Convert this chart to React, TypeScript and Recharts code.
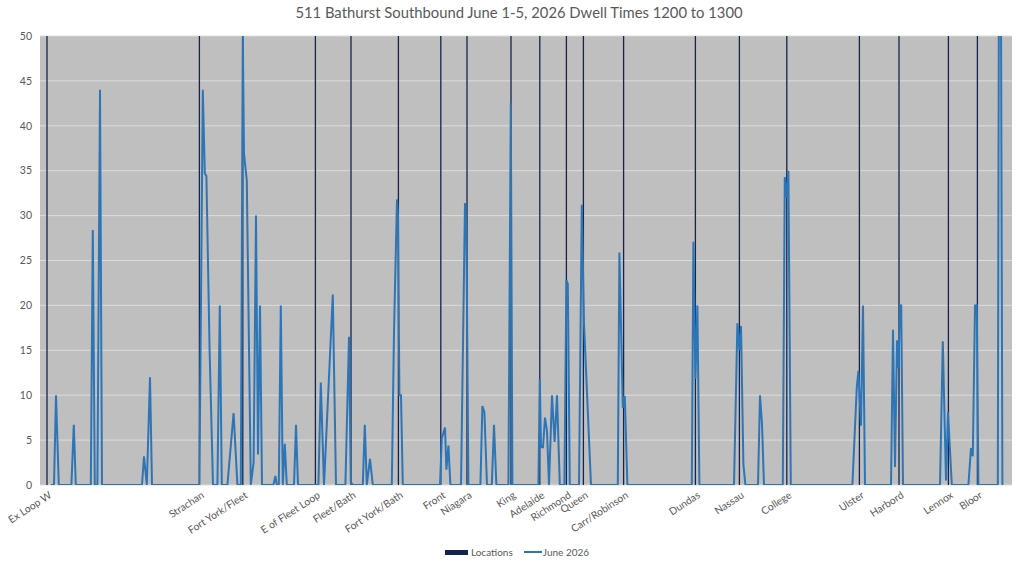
import {
  ComposedChart, Bar, Line, XAxis, YAxis, CartesianGrid, Legend,
} from "recharts";

// ── Route positions (index along the route) ───────────────────────
const locNames = [
  "Ex Loop W", "Strachan", "Fort York/Fleet", "E of Fleet Loop", "Fleet/Bath",
  "Fort York/Bath", "Front", "Niagara", "King", "Adelaide",
  "Richmond", "Queen", "Carr/Robinson", "Dundas", "Nassau",
  "College", "Ulster", "Harbord", "Lennox", "Bloor",
];
const locX = [
  3.5, 79.7, 101.4, 137.7, 155.5,
  179.2, 200.4, 213.5, 235.5, 249.9,
  263.2, 271.7, 291.8, 327.7, 349.7,
  373.4, 409.7, 429.5, 454.2, 468.7,
];
const locY = [
  50, 50, 50, 50, 50, 50, 50, 50, 50, 50,
  50, 50, 50, 50, 50, 50, 50, 50, 50, 50,
];

// ── June 2026 dwell times (seconds) ───────────────────────────────
const dwellX = [
  5.4, 7, 8, 9.4, 15.7, 16.9, 17.9, 25.4, 26.4, 27.4,
  28.7, 30, 31, 51, 52, 53.4, 55, 56, 79.7, 81.4,
  82.4, 83.2, 84.8, 86.5, 88.7, 89.9, 90.9, 93.7, 96.8, 98.7,
  100.4, 101.4, 102, 103.4, 105.4, 106.8, 108, 109, 110, 111,
  116.7, 117.7, 118.4, 119.4, 120.4, 121.4, 122.4, 123.4, 127, 128,
  129, 139.2, 140.4, 142, 146.4, 148, 152.7, 154.5, 155.4, 156.5,
  161.4, 162.4, 163.4, 165, 166.4, 175.9, 177, 178.5, 179, 179.7,
  180.5, 181.4, 200, 200.9, 202.5, 203.2, 204.2, 205.2, 210.5, 212.5,
  213.2, 214.2, 220.2, 221.2, 222.2, 223.5, 225.9, 227, 228.2, 234.2,
  235.4, 236.2, 249.2, 249.9, 250.5, 251.5, 252.5, 253.5, 254.5, 256,
  257.3, 258.5, 259.9, 262.2, 263.2, 263.9, 264.9, 269.5, 270.9, 272,
  275.5, 288.9, 289.7, 291.4, 292.4, 293.7, 325.9, 326.7, 327.7, 328.7,
  329.7, 347, 348.7, 349.7, 350.5, 351.7, 352.7, 359, 360, 361,
  362, 371.4, 372.4, 373.4, 374.2, 375.4, 406.2, 408.4, 409.2, 410.5,
  411.5, 412.5, 425.5, 426.5, 427.5, 428.5, 429.3, 429.9, 430.6, 431.5,
  450, 451.4, 453, 454, 455.9, 464.2, 465.5, 466.4, 467.5, 468.4,
  469.2, 478.9, 479.5, 480.4, 481.2, 481.7,
];
const dwellY = [
  0, 0, 10, 0, 0, 6.7, 0, 0, 28.4, 0,
  0, 44, 0, 0, 3.2, 0, 12, 0, 0, 44,
  34.7, 34.4, 15, 0, 0, 20, 0, 0, 8, 0,
  0, 50, 36.9, 33.9, 0, 2.5, 30, 3.4, 20, 0,
  0, 1, 0, 0, 20, 0, 4.6, 0, 0, 6.7,
  0, 0, 11.4, 0, 21.2, 0, 0, 16.5, 0.3, 0,
  0, 6.7, 0, 2.9, 0, 0, 17, 31.8, 30, 10,
  10, 0, 0, 5.2, 6.4, 1.7, 4.4, 0, 0, 31.4,
  28.3, 0, 0, 8.8, 8.1, 0, 0, 6.7, 0, 0,
  42.5, 0, 0, 11.8, 4.2, 4.2, 7.5, 6, 0, 10,
  4.8, 10, 0, 0, 22.8, 22.4, 0, 0, 31.2, 18,
  0, 0, 25.9, 8.6, 9.9, 0, 0, 27.1, 11.8, 20,
  0, 0, 18, 15, 17.7, 2.3, 0, 0, 10, 6.8,
  0, 0, 34.3, 32, 35, 0, 0, 10.9, 12.7, 6.6,
  20, 0, 0, 17.3, 2, 16.1, 13, 20, 20, 0,
  0, 16, 0.5, 8.1, 0, 0, 4.1, 3.2, 20, 20,
  0, 0, 60, 60, 0, 0,
];

const yTicks = [0, 5, 10, 15, 20, 25, 30, 35, 40, 45, 50];

const rows = [
  ...locX.map((x, i) => ({ x, loc: locY[i] })),
  ...dwellX.map((x, i) => ({ x, dwell: dwellY[i] })),
].sort((a, b) => a.x - b.x);

const FONT = "Lato, 'Open Sans', sans-serif";
const TEXT = "#595959";
const LOC_COLOR = "#14244F";
const LINE_COLOR = "#2E75B6";

// numeric axis makes the band tiny, so draw each location as a thin column
const LocationBar = ({ x, y, width, height }: any) => {
  if (!height) return null;
  const cx = x + width / 2;
  return <rect x={cx - 0.65} y={y} width={1.3} height={height} fill={LOC_COLOR} />;
};

const LocationTick = ({ x, y, payload }: any) => {
  const name = locNames[locX.indexOf(payload.value)] ?? "";
  return (
    <g transform={`translate(${x + 1},${y - 3})`}>
      <text
        textAnchor="end"
        transform="rotate(-33)"
        dy="0.8em"
        fill={TEXT}
        fontSize={10.3}
        fontFamily={FONT}
      >
        {name}
      </text>
    </g>
  );
};

const LegendContent = () => (
  <div style={{
    display: "flex", justifyContent: "center", alignItems: "center",
    fontFamily: FONT, fontSize: 10, color: TEXT, paddingLeft: 22, paddingTop: 3,
  }}>
    <span style={{ width: 23, height: 5, background: LOC_COLOR, display: "inline-block", marginRight: 3 }} />
    <span style={{ marginRight: 11 }}>Locations</span>
    <span style={{ width: 18, height: 2, background: LINE_COLOR, display: "inline-block", marginRight: 1 }} />
    <span>June 2026</span>
  </div>
);

export default function App() {
  return (
    <div style={{ position: "absolute", left: 0, top: 0, width: 1024, height: 561, background: "#fff" }}>
      <div style={{
        position: "absolute", top: 3, left: 7, width: 1024, textAlign: "center",
        fontFamily: FONT, fontSize: 14.8, color: TEXT,
      }}>
        511 Bathurst Southbound June 1-5, 2026 Dwell Times 1200 to 1300
      </div>
      <ComposedChart
        width={1024}
        height={561}
        data={rows}
        margin={{ top: 36, right: 12, bottom: 0, left: 0 }}
      >
        <CartesianGrid fill="#BFBFBF" stroke="#DCDCDC" vertical={false} />
        <XAxis
          dataKey="x"
          type="number"
          domain={[0, 486]}
          ticks={locX}
          interval={0}
          tick={<LocationTick />}
          axisLine={false}
          tickLine={false}
          height={58}
        />
        <YAxis
          domain={[0, 50]}
          ticks={yTicks}
          allowDataOverflow
          axisLine={false}
          tickLine={false}
          width={40}
          tick={{ fill: TEXT, fontSize: 10.5, fontFamily: FONT }}
        />
        <Legend verticalAlign="bottom" height={18} content={<LegendContent />} />
        {/* line listed first: this build paints later siblings underneath */}
        <Line
          type="linear"
          dataKey="dwell"
          name="June 2026"
          stroke={LINE_COLOR}
          strokeWidth={2}
          dot={false}
          activeDot={false}
          connectNulls
          isAnimationActive={false}
        />
        <Bar
          dataKey="loc"
          name="Locations"
          fill={LOC_COLOR}
          shape={<LocationBar />}
          isAnimationActive={false}
        />
      </ComposedChart>
    </div>
  );
}
